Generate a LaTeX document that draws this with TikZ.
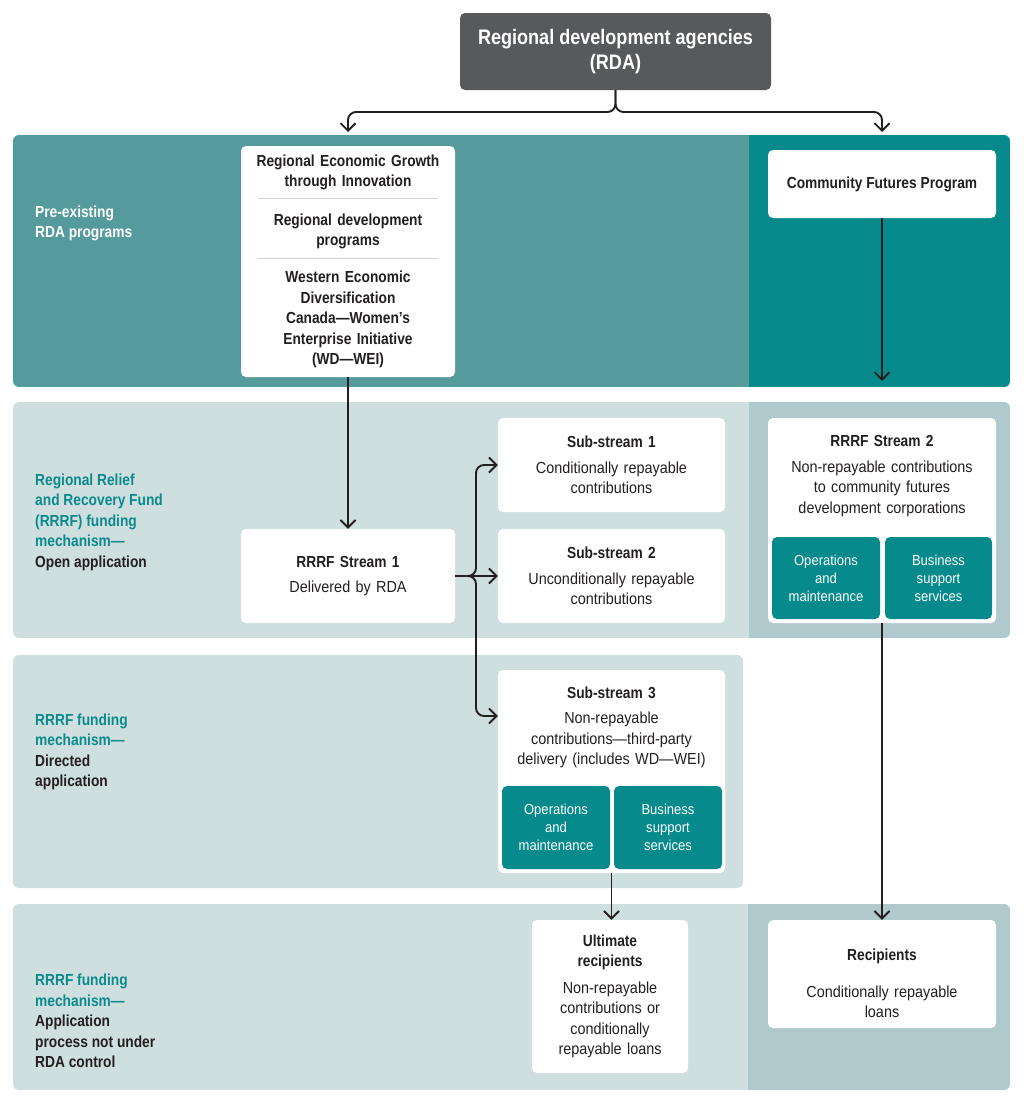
\documentclass[tikz,border=0pt]{standalone}
\usepackage{fontspec}
\setmainfont{Liberation Sans}[UprightFeatures={FakeStretch=0.9},BoldFeatures={FakeStretch=0.86}]
\usetikzlibrary{arrows.meta}

\definecolor{rdagrey}{HTML}{58595B}
\definecolor{tealdark}{HTML}{068A8C}
\definecolor{tealmid}{HTML}{559B9E}
\definecolor{palegrey}{HTML}{CFDEDF}
\definecolor{greyblue}{HTML}{AFC9CC}
\definecolor{inktext}{HTML}{231F20}
\definecolor{labelteal}{HTML}{0A8A8C}
\definecolor{sepgrey}{HTML}{D2D2D2}

\tikzset{
  card/.style={fill=white, rounded corners=5pt, inner sep=0pt, align=center},
  tealbox/.style={fill=tealdark, rounded corners=5pt, text=white, inner sep=0pt,
    align=center, font=\fontsize{14.5}{18}\selectfont},
  txt/.style={align=center, text width=#1, inner sep=0pt},
  lbl/.style={anchor=west, align=left, inner sep=0pt, font=\fontsize{16}{20.5}\selectfont\bfseries},
  flow/.style={draw=inktext, line width=1.9pt, -{Straight Barb[length=7.5pt,width=15pt]}},
  sepline/.style={draw=sepgrey, line width=1pt}
}

\begin{document}
\begin{tikzpicture}[x=1pt, y=-1pt, font=\fontsize{16}{20.5}\selectfont, text=inktext]
\useasboundingbox (0,0) rectangle (1024,1103);

% bands
\begin{scope}
\clip[rounded corners=6pt] (13,135) rectangle (1010,387);
\fill[tealmid] (13,135) rectangle (749,387);
\fill[tealdark] (749,135) rectangle (1010,387);
\end{scope}
\begin{scope}
\clip[rounded corners=6pt] (13,402) rectangle (1010,638);
\fill[palegrey] (13,402) rectangle (749,638);
\fill[greyblue] (749,402) rectangle (1010,638);
\end{scope}
\fill[palegrey, rounded corners=6pt] (13,655) rectangle (743,888);
\begin{scope}
\clip[rounded corners=6pt] (13,904) rectangle (1010,1090);
\fill[palegrey] (13,904) rectangle (748,1090);
\fill[greyblue] (748,904) rectangle (1010,1090);
\end{scope}

% row labels
\node[lbl, text=white] (lblpre) at (35,223.5) {Pre-existing\\RDA programs};
\node[lbl] (lblopen) at (35,522) {\textcolor{labelteal}{Regional Relief}\\\textcolor{labelteal}{and Recovery Fund}\\\textcolor{labelteal}{(RRRF) funding}\\\textcolor{labelteal}{mechanism—}\\Open application};
\node[lbl] (lbldir) at (35,752) {\textcolor{labelteal}{RRRF funding}\\\textcolor{labelteal}{mechanism—}\\Directed\\application};
\node[lbl] (lblnot) at (35,1021) {\textcolor{labelteal}{RRRF funding}\\\textcolor{labelteal}{mechanism—}\\Application\\process not under\\RDA control};

% top
\node[fill=rdagrey, rounded corners=5pt, text=white, align=center, inner sep=0pt,
  minimum width=311pt, minimum height=77pt, font=\fontsize{21}{25}\selectfont\bfseries]
  (rda) at (615.5,51.5) {Regional development agencies\\(RDA)};

% pre-existing programs
\node[card, minimum width=214pt, minimum height=231pt] (regi) at (348,261.5) {};
\node[txt=200, font=\fontsize{16}{20.5}\selectfont\bfseries] (regi1) at (348,172.5) {Regional Economic Growth\\through Innovation};
\node[txt=200, font=\fontsize{16}{20.5}\selectfont\bfseries] (regi2) at (348,231.5) {Regional development\\programs};
\node[txt=200, font=\fontsize{16}{20.5}\selectfont\bfseries] (regi3) at (348,319.5) {Western Economic\\Diversification\\Canada—Women's\\Enterprise Initiative\\(WD—WEI)};
\draw[sepline] (258,198.5) -- (438,198.5);
\draw[sepline] (258,258.5) -- (438,258.5);

\node[card, minimum width=228pt, minimum height=68pt, font=\fontsize{16}{20.5}\selectfont\bfseries]
  (cfp) at (882,184) {Community Futures Program};

% open application
\node[card, minimum width=214pt, minimum height=94pt, text width=200pt] (stream1) at (348,576)
  {{\bfseries RRRF Stream 1}\\[5pt]Delivered by RDA};
\node[card, minimum width=227pt, minimum height=94pt, text width=215pt] (sub1) at (611.5,465)
  {{\bfseries Sub-stream 1}\\[5pt]Conditionally repayable\\contributions};
\node[card, minimum width=227pt, minimum height=94pt, text width=215pt] (sub2) at (611.5,576)
  {{\bfseries Sub-stream 2}\\[5pt]Unconditionally repayable\\contributions};

\node[card, minimum width=228pt, minimum height=205pt] (rs2) at (882,520.5) {};
\node[txt=220] (rs2txt) at (882,476) {{\bfseries RRRF Stream 2}\\[5pt]Non-repayable contributions\\to community futures\\development corporations};
\node[tealbox, minimum width=108pt, minimum height=82pt] (ops2) at (826,578) {Operations\\and\\maintenance};
\node[tealbox, minimum width=107pt, minimum height=82pt] (bss2) at (938.5,578) {Business\\support\\services};

% directed application
\node[card, minimum width=227pt, minimum height=203pt] (sub3) at (611.5,771.5) {};
\node[txt=215] (sub3txt) at (611.5,727.5) {{\bfseries Sub-stream 3}\\[5pt]Non-repayable\\contributions—third-party\\delivery (includes WD—WEI)};
\node[tealbox, minimum width=108pt, minimum height=83pt] (ops3) at (556,827.5) {Operations\\and\\maintenance};
\node[tealbox, minimum width=108pt, minimum height=83pt] (bss3) at (668,827.5) {Business\\support\\services};

% not under RDA control
\node[card, minimum width=156pt, minimum height=153pt, text width=145pt] (ult) at (610,996.5)
  {{\bfseries Ultimate\\recipients}\\[6pt]Non-repayable\\contributions or\\conditionally\\repayable loans};
\node[card, minimum width=228pt, minimum height=108pt] (rec) at (882,974) {};
\node[txt=215] (rectxt) at (882,983.5) {{\bfseries Recipients}\\[16pt]Conditionally repayable\\loans};

% connectors
\coordinate (regitip) at (348,132);
\coordinate (cfptip) at (882,132);
\coordinate (cfpend) at (882,381);
\coordinate (sub3in) at (sub3.west |- 0,716);

\draw[flow, rounded corners=8pt] (rda.south) -- (rda.south |- 0,112) -| (regitip);
\draw[flow, rounded corners=8pt] (rda.south) -- (rda.south |- 0,112) -| (cfptip);
\draw[flow] (cfp.south) -- (cfpend);
\draw[flow] (regi.south) -- (stream1.north);
\draw[flow, rounded corners=8pt] (stream1.east) -- (476,576) |- (sub1.west);
\draw[flow] (stream1.east) -- (sub2.west);
\draw[flow, rounded corners=8pt] (stream1.east) -- (476,576) |- (sub3in);
\draw[flow] (sub3.south) -- (sub3.south |- rec.north);
\draw[flow] (rs2.south) -- (rec.north);
\end{tikzpicture}
\end{document}
